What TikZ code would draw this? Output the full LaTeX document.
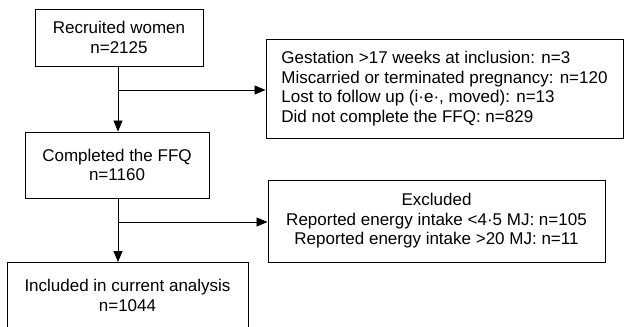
\documentclass[tikz,border=0pt]{standalone}
\usepackage{fontspec}
\setmainfont{Liberation Sans}
\usetikzlibrary{arrows.meta}
\begin{document}
\begin{tikzpicture}[x=1pt,y=-1pt,
  box/.style={draw=black,line width=1pt,inner sep=0pt,font=\fontsize{17}{19.5}\selectfont},
  arr/.style={line width=0.8pt,-{Triangle[length=11pt,width=9pt]}},
  ln/.style={line width=0.8pt}]
\useasboundingbox (0,0) rectangle (625,327);
\clip (0,0) rectangle (625,327);
\node[box,minimum width=168pt,minimum height=57pt,align=center] (b1) at (119,37.5) {Recruited women\\n=2125};
\node[box,minimum width=357pt,minimum height=99pt,align=left] (b2) at (444.5,88.5) {Gestation >17 weeks at inclusion: n=3\\Miscarried or terminated pregnancy: n=120\\Lost to follow up (i·e·, moved): n=13\\Did not complete the FFQ: n=829};
\node[box,minimum width=184pt,minimum height=66pt,align=center] (b3) at (117,165) {Completed the FFQ\\n=1160};
\node[box,minimum width=337pt,minimum height=82pt,align=center] (b5) at (436.5,221) {Excluded\\Reported energy intake <4·5 MJ: n=105\\Reported energy intake >20 MJ: n=11};
\node[box,minimum width=241pt,minimum height=66pt,align=center] (b4) at (127.5,295.5) {Included in current analysis\\n=1044};
\coordinate (j1) at (118,90);
\coordinate (j2) at (118,222);
\draw[arr] (j1 |- b1.south) -- (j1 |- b3.north);
\draw[arr] (j1) -- (j1 -| b2.west);
\draw[arr] (j2 |- b3.south) -- (j2 |- b4.north);
\draw[arr] (j2) -- (j2 -| b5.west);
\end{tikzpicture}
\end{document}
